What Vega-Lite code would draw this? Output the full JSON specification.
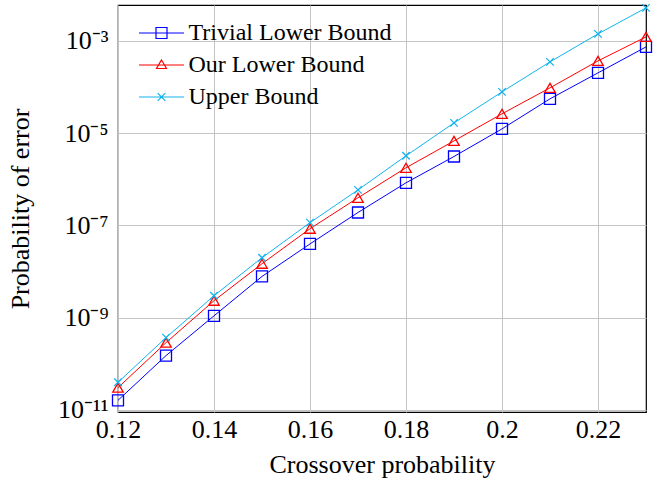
{
  "$schema": "https://vega.github.io/schema/vega-lite/v6.json",
  "autosize": {"type": "none"},
  "width": 528,
  "height": 407,
  "padding": {"left": 118, "top": 5, "right": 21, "bottom": 79},
  "config": {
    "font": "Liberation Serif",
    "view": {"stroke": "black", "strokeWidth": 1.2},
    "axis": {
      "labelFont": "Liberation Serif",
      "titleFont": "Liberation Serif",
      "labelFontSize": 26,
      "titleFontSize": 26,
      "titleFontWeight": "normal",
      "labelColor": "black",
      "titleColor": "black",
      "gridColor": "#c4c4c4",
      "gridWidth": 1,
      "gridOpacity": 1,
      "domain": false,
      "ticks": false,
      "labelFlush": false
    }
  },
  "data": {
    "values": [
      {"p": 0.12, "series": "Trivial Lower Bound", "value": 1.62e-11},
      {"p": 0.13, "series": "Trivial Lower Bound", "value": 1.51e-10},
      {"p": 0.14, "series": "Trivial Lower Bound", "value": 1.10e-9},
      {"p": 0.15, "series": "Trivial Lower Bound", "value": 7.85e-9},
      {"p": 0.16, "series": "Trivial Lower Bound", "value": 3.98e-8},
      {"p": 0.17, "series": "Trivial Lower Bound", "value": 1.91e-7},
      {"p": 0.18, "series": "Trivial Lower Bound", "value": 8.4e-7},
      {"p": 0.19, "series": "Trivial Lower Bound", "value": 3.12e-6},
      {"p": 0.20, "series": "Trivial Lower Bound", "value": 1.24e-5},
      {"p": 0.21, "series": "Trivial Lower Bound", "value": 5.55e-5},
      {"p": 0.22, "series": "Trivial Lower Bound", "value": 2.03e-4},
      {"p": 0.23, "series": "Trivial Lower Bound", "value": 7.4e-4},
      {"p": 0.12, "series": "Our Lower Bound", "value": 3.05e-11},
      {"p": 0.13, "series": "Our Lower Bound", "value": 2.88e-10},
      {"p": 0.14, "series": "Our Lower Bound", "value": 2.34e-9},
      {"p": 0.15, "series": "Our Lower Bound", "value": 1.48e-8},
      {"p": 0.16, "series": "Our Lower Bound", "value": 8.5e-8},
      {"p": 0.17, "series": "Our Lower Bound", "value": 3.98e-7},
      {"p": 0.18, "series": "Our Lower Bound", "value": 1.78e-6},
      {"p": 0.19, "series": "Our Lower Bound", "value": 6.8e-6},
      {"p": 0.20, "series": "Our Lower Bound", "value": 2.63e-5},
      {"p": 0.21, "series": "Our Lower Bound", "value": 9.6e-5},
      {"p": 0.22, "series": "Our Lower Bound", "value": 3.69e-4},
      {"p": 0.23, "series": "Our Lower Bound", "value": 1.22e-3},
      {"p": 0.12, "series": "Upper Bound", "value": 3.98e-11},
      {"p": 0.13, "series": "Upper Bound", "value": 3.7e-10},
      {"p": 0.14, "series": "Upper Bound", "value": 3.0e-9},
      {"p": 0.15, "series": "Upper Bound", "value": 2.0e-8},
      {"p": 0.16, "series": "Upper Bound", "value": 1.15e-7},
      {"p": 0.17, "series": "Upper Bound", "value": 5.9e-7},
      {"p": 0.18, "series": "Upper Bound", "value": 3.23e-6},
      {"p": 0.19, "series": "Upper Bound", "value": 1.67e-5},
      {"p": 0.20, "series": "Upper Bound", "value": 7.86e-5},
      {"p": 0.21, "series": "Upper Bound", "value": 3.51e-4},
      {"p": 0.22, "series": "Upper Bound", "value": 1.42e-3},
      {"p": 0.23, "series": "Upper Bound", "value": 5.19e-3}
    ]
  },
  "encoding": {
    "x": {
      "field": "p",
      "type": "quantitative",
      "scale": {"domain": [0.12, 0.23], "nice": false, "zero": false},
      "axis": {
        "title": "Crossover probability",
        "values": [0.12, 0.14, 0.16, 0.18, 0.2, 0.22],
        "labelExpr": "format(datum.value, '.2~f')",
        "labelPadding": 4,
        "titlePadding": 9
      }
    },
    "y": {
      "field": "value",
      "type": "quantitative",
      "scale": {"type": "log", "domain": [9.05e-12, 6.0e-3], "nice": false},
      "axis": {
        "title": "Probability of error",
        "values": [1e-11, 1e-9, 1e-7, 1e-5, 1e-3],
        "labelExpr": "datum.value < 1e-10 ? '10⁻¹¹' : datum.value < 1e-8 ? '10⁻⁹' : datum.value < 1e-6 ? '10⁻⁷' : datum.value < 1e-4 ? '10⁻⁵' : '10⁻³'",
        "labelPadding": 10,
        "titlePadding": 24
      }
    },
    "color": {
      "field": "series",
      "type": "nominal",
      "scale": {
        "domain": ["Trivial Lower Bound", "Our Lower Bound", "Upper Bound"],
        "range": ["#0000ff", "#ff0000", "#10b4ee"]
      },
      "legend": {
        "title": null,
        "orient": "top-left",
        "offset": 16,
        "padding": 0,
        "labelFont": "Liberation Serif",
        "labelFontSize": 24,
        "labelColor": "black",
        "labelLimit": 400,
        "symbolSize": 400,
        "symbolStrokeWidth": 1.2,
        "symbolOffset": 15.5,
        "labelOffset": 15,
        "rowPadding": 8,
        "encode": {
          "symbols": {
            "update": {
              "shape": {"signal": "datum.value === 'Trivial Lower Bound' ? 'M-2.25,0H2.25M-0.55,-0.55H0.55V0.55H-0.55Z' : datum.value === 'Our Lower Bound' ? 'M-2.25,0H2.25M0,-0.5L0.5,0.35L-0.5,0.35Z' : 'M-2.25,0H2.25M-0.38,-0.38L0.38,0.38M0.38,-0.38L-0.38,0.38'"},
              "fill": {"value": "transparent"},
              "stroke": {"signal": "scale('color', datum.value)"},
              "strokeWidth": {"value": 1.2},
              "opacity": {"value": 1}
            }
          }
        }
      }
    }
  },
  "layer": [
    {
      "mark": {"type": "line", "strokeWidth": 1}
    },
    {
      "transform": [{"filter": "datum.series === 'Trivial Lower Bound'"}],
      "mark": {"type": "point", "shape": "square", "size": 121, "filled": false, "strokeWidth": 1.3, "opacity": 1}
    },
    {
      "transform": [{"filter": "datum.series === 'Our Lower Bound'"}],
      "mark": {"type": "point", "shape": "triangle-up", "size": 110, "filled": false, "strokeWidth": 1.3, "opacity": 1}
    },
    {
      "transform": [{"filter": "datum.series === 'Upper Bound'"}],
      "mark": {"type": "point", "shape": "M-1,-1L1,1M1,-1L-1,1", "size": 56, "filled": false, "strokeWidth": 1.3, "opacity": 1}
    }
  ]
}
